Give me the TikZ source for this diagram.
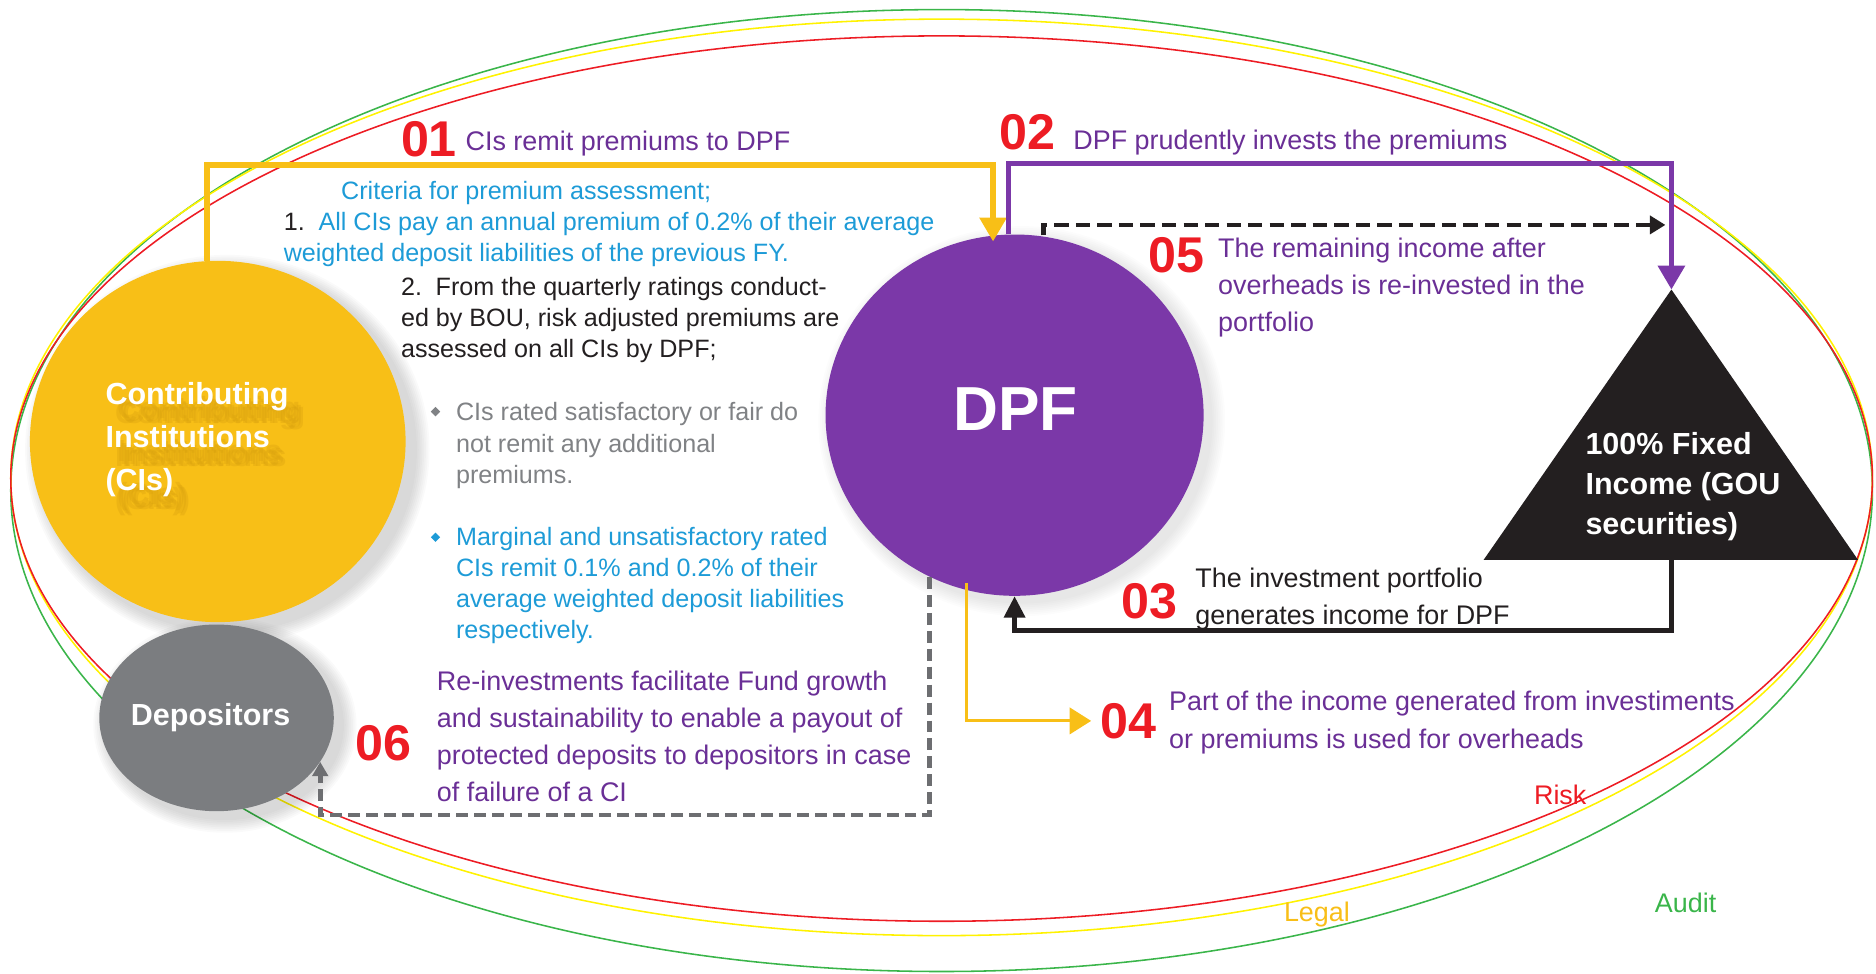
\documentclass[tikz,border=0pt]{standalone}
\usepackage{fontspec}
\setmainfont{Liberation Sans}
\usetikzlibrary{shapes.geometric,arrows.meta,calc}

\definecolor{numred}{HTML}{ED1C24}
\definecolor{ciyellow}{HTML}{F8BF17}
\definecolor{ciyellowdark}{HTML}{D9A20F}
\definecolor{dpfpurple}{HTML}{7B38A8}
\definecolor{txtpurple}{HTML}{6A2F96}
\definecolor{txtblue}{HTML}{1D9BD7}
\definecolor{txtgray}{HTML}{808285}
\definecolor{ink}{HTML}{231F20}
\definecolor{depgray}{HTML}{7B7D80}
\definecolor{ringgreen}{HTML}{3AB54A}
\definecolor{ringyellow}{HTML}{FFF200}
\definecolor{legalgold}{HTML}{F8BE17}
\definecolor{dashgray}{HTML}{6D6E71}

% multi-line nodes are placed by the baseline of their last line
\tikzset{
  num/.style={font=\fontsize{42}{42}\selectfont\bfseries, text=numred, inner sep=0pt, anchor=base west},
  caption/.style={font=\fontsize{22.5}{31}\selectfont, align=left, inner sep=0pt, anchor=base west},
  crit/.style={font=\fontsize{21}{26}\selectfont, align=left, inner sep=0pt, anchor=base west},
  bubble/.style={ellipse, inner sep=0pt, draw=none},
  bubbletext/.style={font=\fontsize{25.5}{36}\selectfont\bfseries, text=white, align=left, inner sep=0pt, anchor=base west},
  ring/.style={line width=1.3pt},
  flow/.style={line width=4.5pt},
  bighead/.style={-{Triangle[width=22pt,length=20pt]}},
  bullet/.style={diamond, inner sep=0pt, minimum size=8pt},
}

\begin{document}
\begin{tikzpicture}[x=1pt,y=-1pt]
\useasboundingbox (0,0) rectangle (1568,814);

% risk, legal and audit rings
\draw[ring, ringgreen] (787,410) ellipse (778 and 402);
\draw[ring, ringyellow] (787,399) ellipse (778 and 383);
\draw[ring, numred] (787,400) ellipse (778 and 370);
\node[font=\fontsize{22.5}{22.5}\selectfont, text=numred, inner sep=0pt, anchor=base west] (risk) at (1282,672) {Risk};
\node[font=\fontsize{22.5}{22.5}\selectfont, text=legalgold, inner sep=0pt, anchor=base west] (legal) at (1073,770) {Legal};
\node[font=\fontsize{22.5}{22.5}\selectfont, text=ringgreen, inner sep=0pt, anchor=base west] (audit) at (1383,763) {Audit};

% soft shadows under the three discs
\foreach \s in {1,...,8} {
  \fill[black, opacity=0.018] (190,376) ellipse ({157+1.5*\s} and {151+1.5*\s});
  \fill[black, opacity=0.018] (188,606) ellipse ({98+1.5*\s} and {78+1.5*\s});
  \fill[black, opacity=0.012] (854,352) ellipse ({158+1.5*\s} and {151+1.5*\s});
}

% discs
\node[bubble, fill=ciyellow, minimum width=314pt, minimum height=302pt] (ci) at (182,369) {};
\node[bubble, fill=depgray, minimum width=196pt, minimum height=156pt] (dep) at (181,600) {};
\node[bubble, fill=dpfpurple, minimum width=316pt, minimum height=302pt] (dpf) at (848,347) {};

% blurred shadow of the CI label
\foreach \dx/\dy in {10/12,14/16,12/14,8/16} {
  \node[bubbletext, text=ciyellowdark, opacity=0.35] at (88+\dx,410+\dy) {Contributing\\Institutions\\(CIs)};
}
\node[bubbletext] (cilabel) at (88,410) {Contributing\\Institutions\\(CIs)};
\node[font=\fontsize{25.5}{36}\selectfont\bfseries, text=white, inner sep=0pt, anchor=base] (deplabel) at (176,606) {Depositors};
\node[font=\fontsize{52}{52}\selectfont\bfseries, text=white, inner sep=0pt, anchor=base] (dpflabel) at (849,360) {DPF};

% fixed income triangle
\coordinate (apex) at (1397,242);
\coordinate (tbase) at (1397,468);
\fill[ink] (apex) -- (1553,468) -- (1240,468) -- cycle;
\node[font=\fontsize{25.5}{33.5}\selectfont\bfseries, text=white, align=left, inner sep=0pt, anchor=base west] (fixed) at (1325,447) {100\% Fixed\\Income (GOU\\securities)};

% numbered captions
\node[num] (n01) at (335,131) {01};
\node[caption, text=txtpurple] (c01) at (389,126) {CIs remit premiums to DPF};
\node[num] (n02) at (835,125) {02};
\node[caption, text=txtpurple] (c02) at (897,125) {DPF prudently invests the premiums};
\node[num] (n05) at (960,228) {05};
\node[caption, text=txtpurple] (c05) at (1018,277) {The remaining income after\\overheads is re-invested in the\\portfolio};
\node[num] (n03) at (937,517) {03};
\node[caption, text=ink] (c03) at (999,522) {The investment portfolio\\generates income for DPF};
\node[num] (n04) at (920,617) {04};
\node[caption, text=txtpurple, font=\fontsize{22.5}{32}\selectfont] (c04) at (977,626) {Part of the income generated from investiments\\or premiums is used for overheads};
\node[num] (n06) at (297,636) {06};
\node[caption, text=txtpurple] (c06) at (365,670) {Re-investments facilitate Fund growth\\and sustainability to enable a payout of\\protected deposits to depositors in case\\of failure of a CI};

% premium assessment criteria
\node[crit, text=txtblue] (crithead) at (285,166.5) {Criteria for premium assessment;};
\node[crit, text=txtblue] (rule1) at (237,218.5) {\textcolor{ink}{1.}\hspace*{11.5pt}All CIs pay an annual premium of 0.2\% of their average\\weighted deposit liabilities of the previous FY.};
\node[crit, text=ink] (rule2) at (335,299) {2.\hspace*{11.5pt}From the quarterly ratings conduct-\\ed by BOU, risk adjusted premiums are\\assessed on all CIs by DPF;};
\node[bullet, fill=txtgray] (b1) at (364,344) {};
\node[crit, text=txtgray, font=\fontsize{21}{26.5}\selectfont] (sat) at (381,404.5) {CIs rated satisfactory or fair do\\not remit any additional\\premiums.};
\node[bullet, fill=txtblue] (b2) at (364,449) {};
\node[crit, text=txtblue] (marg) at (381,534) {Marginal and unsatisfactory rated\\CIs remit 0.1\% and 0.2\% of their\\average weighted deposit liabilities\\respectively.};

% flows
\draw[flow, ciyellow, bighead] ([xshift=-9pt]ci.north) -- ++(0,-80) -| ([shift={(-18,6)}]dpf.north);
\draw[flow, dpfpurple, bighead] ([xshift=-5pt]dpf.north) -- ++(0,-59) -| (apex);
\coordinate (reinvest) at (1392,188);
\draw[line width=4pt, ink, dash pattern=on 12pt off 6pt, -{Triangle[width=15pt,length=13pt]}] ([shift={(24,1)}]dpf.north) |- (reinvest);
\draw[flow, ink, -{Triangle[width=17pt,length=18pt]}] (tbase) -- ++(0,59) -| (dpf.south);
\draw[line width=2.6pt, ciyellow, -{Triangle[width=22pt,length=18pt]}] ([shift={(-40,-11)}]dpf.south) |- ([xshift=-8pt]n04.west);
\draw[line width=4pt, dashgray, dash pattern=on 10pt off 5pt, -{Triangle[width=13pt,length=12pt]}] ([shift={(-71,-16)}]dpf.south) -- ++(0,199) -| (dep.-23);

\end{tikzpicture}
\end{document}
